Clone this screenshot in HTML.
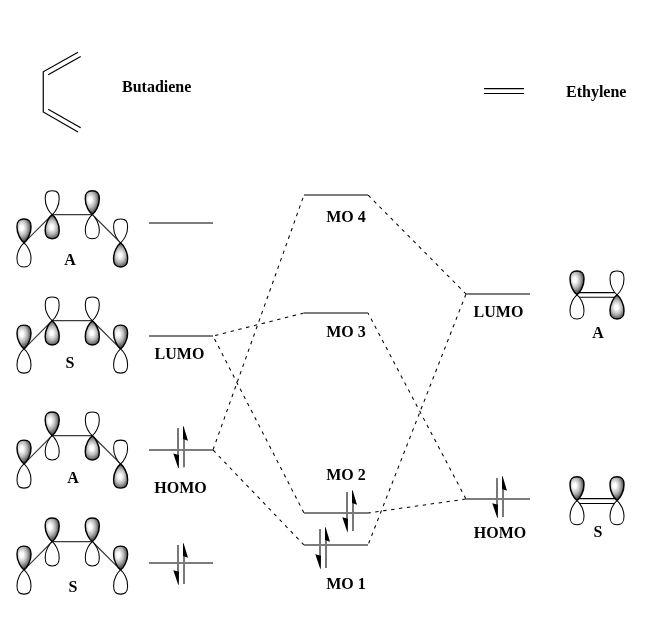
<!DOCTYPE html>
<html><head><meta charset="utf-8"><style>
html,body{margin:0;padding:0;background:#fff;}
svg{display:block;will-change:transform;}
text{font-family:"Liberation Serif",serif;font-weight:bold;font-size:16px;fill:#000;}
</style></head><body>
<svg width="658" height="640" viewBox="0 0 658 640">
<defs>
<radialGradient id="g0" gradientUnits="userSpaceOnUse" cx="21.80" cy="228.00" r="14" gradientTransform="translate(21.80,228.00) scale(0.75,1.1) translate(-21.80,-228.00)"><stop offset="0" stop-color="#fff"/><stop offset="0.15" stop-color="#fff"/><stop offset="0.5" stop-color="#b8b8b8"/><stop offset="0.78" stop-color="#666"/><stop offset="1" stop-color="#303030"/></radialGradient><radialGradient id="g1" gradientUnits="userSpaceOnUse" cx="51.70" cy="227.10" r="13.5" gradientTransform="translate(51.70,227.10) scale(0.8,1.05) translate(-51.70,-227.10)"><stop offset="0" stop-color="#fff"/><stop offset="0.15" stop-color="#fff"/><stop offset="0.5" stop-color="#b8b8b8"/><stop offset="0.78" stop-color="#666"/><stop offset="1" stop-color="#303030"/></radialGradient><radialGradient id="g2" gradientUnits="userSpaceOnUse" cx="90.10" cy="199.80" r="14" gradientTransform="translate(90.10,199.80) scale(0.75,1.1) translate(-90.10,-199.80)"><stop offset="0" stop-color="#fff"/><stop offset="0.15" stop-color="#fff"/><stop offset="0.5" stop-color="#b8b8b8"/><stop offset="0.78" stop-color="#666"/><stop offset="1" stop-color="#303030"/></radialGradient><radialGradient id="g3" gradientUnits="userSpaceOnUse" cx="120.10" cy="255.30" r="13.5" gradientTransform="translate(120.10,255.30) scale(0.8,1.05) translate(-120.10,-255.30)"><stop offset="0" stop-color="#fff"/><stop offset="0.15" stop-color="#fff"/><stop offset="0.5" stop-color="#b8b8b8"/><stop offset="0.78" stop-color="#666"/><stop offset="1" stop-color="#303030"/></radialGradient><radialGradient id="g4" gradientUnits="userSpaceOnUse" cx="21.80" cy="334.10" r="14" gradientTransform="translate(21.80,334.10) scale(0.75,1.1) translate(-21.80,-334.10)"><stop offset="0" stop-color="#fff"/><stop offset="0.15" stop-color="#fff"/><stop offset="0.5" stop-color="#b8b8b8"/><stop offset="0.78" stop-color="#666"/><stop offset="1" stop-color="#303030"/></radialGradient><radialGradient id="g5" gradientUnits="userSpaceOnUse" cx="51.70" cy="333.20" r="13.5" gradientTransform="translate(51.70,333.20) scale(0.8,1.05) translate(-51.70,-333.20)"><stop offset="0" stop-color="#fff"/><stop offset="0.15" stop-color="#fff"/><stop offset="0.5" stop-color="#b8b8b8"/><stop offset="0.78" stop-color="#666"/><stop offset="1" stop-color="#303030"/></radialGradient><radialGradient id="g6" gradientUnits="userSpaceOnUse" cx="91.80" cy="333.20" r="13.5" gradientTransform="translate(91.80,333.20) scale(0.8,1.05) translate(-91.80,-333.20)"><stop offset="0" stop-color="#fff"/><stop offset="0.15" stop-color="#fff"/><stop offset="0.5" stop-color="#b8b8b8"/><stop offset="0.78" stop-color="#666"/><stop offset="1" stop-color="#303030"/></radialGradient><radialGradient id="g7" gradientUnits="userSpaceOnUse" cx="118.40" cy="334.10" r="14" gradientTransform="translate(118.40,334.10) scale(0.75,1.1) translate(-118.40,-334.10)"><stop offset="0" stop-color="#fff"/><stop offset="0.15" stop-color="#fff"/><stop offset="0.5" stop-color="#b8b8b8"/><stop offset="0.78" stop-color="#666"/><stop offset="1" stop-color="#303030"/></radialGradient><radialGradient id="g8" gradientUnits="userSpaceOnUse" cx="21.80" cy="449.10" r="14" gradientTransform="translate(21.80,449.10) scale(0.75,1.1) translate(-21.80,-449.10)"><stop offset="0" stop-color="#fff"/><stop offset="0.15" stop-color="#fff"/><stop offset="0.5" stop-color="#b8b8b8"/><stop offset="0.78" stop-color="#666"/><stop offset="1" stop-color="#303030"/></radialGradient><radialGradient id="g9" gradientUnits="userSpaceOnUse" cx="50.00" cy="420.90" r="14" gradientTransform="translate(50.00,420.90) scale(0.75,1.1) translate(-50.00,-420.90)"><stop offset="0" stop-color="#fff"/><stop offset="0.15" stop-color="#fff"/><stop offset="0.5" stop-color="#b8b8b8"/><stop offset="0.78" stop-color="#666"/><stop offset="1" stop-color="#303030"/></radialGradient><radialGradient id="g10" gradientUnits="userSpaceOnUse" cx="91.80" cy="448.20" r="13.5" gradientTransform="translate(91.80,448.20) scale(0.8,1.05) translate(-91.80,-448.20)"><stop offset="0" stop-color="#fff"/><stop offset="0.15" stop-color="#fff"/><stop offset="0.5" stop-color="#b8b8b8"/><stop offset="0.78" stop-color="#666"/><stop offset="1" stop-color="#303030"/></radialGradient><radialGradient id="g11" gradientUnits="userSpaceOnUse" cx="120.10" cy="476.40" r="13.5" gradientTransform="translate(120.10,476.40) scale(0.8,1.05) translate(-120.10,-476.40)"><stop offset="0" stop-color="#fff"/><stop offset="0.15" stop-color="#fff"/><stop offset="0.5" stop-color="#b8b8b8"/><stop offset="0.78" stop-color="#666"/><stop offset="1" stop-color="#303030"/></radialGradient><radialGradient id="g12" gradientUnits="userSpaceOnUse" cx="21.80" cy="555.10" r="14" gradientTransform="translate(21.80,555.10) scale(0.75,1.1) translate(-21.80,-555.10)"><stop offset="0" stop-color="#fff"/><stop offset="0.15" stop-color="#fff"/><stop offset="0.5" stop-color="#b8b8b8"/><stop offset="0.78" stop-color="#666"/><stop offset="1" stop-color="#303030"/></radialGradient><radialGradient id="g13" gradientUnits="userSpaceOnUse" cx="50.00" cy="526.90" r="14" gradientTransform="translate(50.00,526.90) scale(0.75,1.1) translate(-50.00,-526.90)"><stop offset="0" stop-color="#fff"/><stop offset="0.15" stop-color="#fff"/><stop offset="0.5" stop-color="#b8b8b8"/><stop offset="0.78" stop-color="#666"/><stop offset="1" stop-color="#303030"/></radialGradient><radialGradient id="g14" gradientUnits="userSpaceOnUse" cx="90.10" cy="526.90" r="14" gradientTransform="translate(90.10,526.90) scale(0.75,1.1) translate(-90.10,-526.90)"><stop offset="0" stop-color="#fff"/><stop offset="0.15" stop-color="#fff"/><stop offset="0.5" stop-color="#b8b8b8"/><stop offset="0.78" stop-color="#666"/><stop offset="1" stop-color="#303030"/></radialGradient><radialGradient id="g15" gradientUnits="userSpaceOnUse" cx="118.40" cy="555.10" r="14" gradientTransform="translate(118.40,555.10) scale(0.75,1.1) translate(-118.40,-555.10)"><stop offset="0" stop-color="#fff"/><stop offset="0.15" stop-color="#fff"/><stop offset="0.5" stop-color="#b8b8b8"/><stop offset="0.78" stop-color="#666"/><stop offset="1" stop-color="#303030"/></radialGradient><radialGradient id="g16" gradientUnits="userSpaceOnUse" cx="574.80" cy="280.00" r="14" gradientTransform="translate(574.80,280.00) scale(0.75,1.1) translate(-574.80,-280.00)"><stop offset="0" stop-color="#fff"/><stop offset="0.15" stop-color="#fff"/><stop offset="0.5" stop-color="#b8b8b8"/><stop offset="0.78" stop-color="#666"/><stop offset="1" stop-color="#303030"/></radialGradient><radialGradient id="g17" gradientUnits="userSpaceOnUse" cx="616.50" cy="307.30" r="13.5" gradientTransform="translate(616.50,307.30) scale(0.8,1.05) translate(-616.50,-307.30)"><stop offset="0" stop-color="#fff"/><stop offset="0.15" stop-color="#fff"/><stop offset="0.5" stop-color="#b8b8b8"/><stop offset="0.78" stop-color="#666"/><stop offset="1" stop-color="#303030"/></radialGradient><radialGradient id="g18" gradientUnits="userSpaceOnUse" cx="574.80" cy="485.80" r="14" gradientTransform="translate(574.80,485.80) scale(0.75,1.1) translate(-574.80,-485.80)"><stop offset="0" stop-color="#fff"/><stop offset="0.15" stop-color="#fff"/><stop offset="0.5" stop-color="#b8b8b8"/><stop offset="0.78" stop-color="#666"/><stop offset="1" stop-color="#303030"/></radialGradient><radialGradient id="g19" gradientUnits="userSpaceOnUse" cx="614.80" cy="485.80" r="14" gradientTransform="translate(614.80,485.80) scale(0.75,1.1) translate(-614.80,-485.80)"><stop offset="0" stop-color="#fff"/><stop offset="0.15" stop-color="#fff"/><stop offset="0.5" stop-color="#b8b8b8"/><stop offset="0.78" stop-color="#666"/><stop offset="1" stop-color="#303030"/></radialGradient>
</defs>
<rect width="658" height="640" fill="#fff"/>
<polyline points="78,52.2 43.25,71.8 43.25,112 78,131.9" fill="none" stroke="#000" stroke-width="1.2"/>
<line x1="48.2" y1="74.7" x2="80.7" y2="56.4" stroke="#000" stroke-width="1.2"/>
<line x1="48.2" y1="109.25" x2="80.7" y2="127.7" stroke="#000" stroke-width="1.2"/>
<text x="122" y="92" text-anchor="start">Butadiene</text>
<line x1="484" y1="88.7" x2="524" y2="88.7" stroke="#000" stroke-width="1.2"/>
<line x1="484" y1="93.5" x2="524" y2="93.5" stroke="#000" stroke-width="1.2"/>
<text x="566" y="97" text-anchor="start">Ethylene</text>
<polyline points="24.0,242.8 52.2,214.6 92.3,214.6 120.6,242.8" fill="none" stroke="#3a3a3a" stroke-width="1.2"/>
<path d="M24.00,242.80 C26.90,240.50 31.20,234.00 31.00,226.80 C31.00,222.00 29.90,219.00 24.00,219.00 C18.10,219.00 17.00,222.00 17.00,226.80 C16.80,234.00 21.10,240.50 24.00,242.80 Z" fill="url(#g0)" stroke="#000" stroke-width="1.45" stroke-linejoin="round"/><path d="M24.00,242.80 C26.90,245.10 31.20,251.60 31.00,258.80 C31.00,263.60 29.90,267.00 24.00,267.00 C18.10,267.00 17.00,263.60 17.00,258.80 C16.80,251.60 21.10,245.10 24.00,242.80 Z" fill="#fff" stroke="#000" stroke-width="1.05" stroke-linejoin="round"/>
<path d="M52.20,214.60 C55.10,212.30 59.40,205.80 59.20,198.60 C59.20,193.80 58.10,190.80 52.20,190.80 C46.30,190.80 45.20,193.80 45.20,198.60 C45.00,205.80 49.30,212.30 52.20,214.60 Z" fill="#fff" stroke="#000" stroke-width="1.05" stroke-linejoin="round"/><path d="M52.20,214.60 C55.10,216.90 59.40,223.40 59.20,230.60 C59.20,235.40 58.10,238.80 52.20,238.80 C46.30,238.80 45.20,235.40 45.20,230.60 C45.00,223.40 49.30,216.90 52.20,214.60 Z" fill="url(#g1)" stroke="#000" stroke-width="1.45" stroke-linejoin="round"/>
<path d="M92.30,214.60 C95.20,212.30 99.50,205.80 99.30,198.60 C99.30,193.80 98.20,190.80 92.30,190.80 C86.40,190.80 85.30,193.80 85.30,198.60 C85.10,205.80 89.40,212.30 92.30,214.60 Z" fill="url(#g2)" stroke="#000" stroke-width="1.45" stroke-linejoin="round"/><path d="M92.30,214.60 C95.20,216.90 99.50,223.40 99.30,230.60 C99.30,235.40 98.20,238.80 92.30,238.80 C86.40,238.80 85.30,235.40 85.30,230.60 C85.10,223.40 89.40,216.90 92.30,214.60 Z" fill="#fff" stroke="#000" stroke-width="1.05" stroke-linejoin="round"/>
<path d="M120.60,242.80 C123.50,240.50 127.80,234.00 127.60,226.80 C127.60,222.00 126.50,219.00 120.60,219.00 C114.70,219.00 113.60,222.00 113.60,226.80 C113.40,234.00 117.70,240.50 120.60,242.80 Z" fill="#fff" stroke="#000" stroke-width="1.05" stroke-linejoin="round"/><path d="M120.60,242.80 C123.50,245.10 127.80,251.60 127.60,258.80 C127.60,263.60 126.50,267.00 120.60,267.00 C114.70,267.00 113.60,263.60 113.60,258.80 C113.40,251.60 117.70,245.10 120.60,242.80 Z" fill="url(#g3)" stroke="#000" stroke-width="1.45" stroke-linejoin="round"/>
<text x="70" y="265" text-anchor="middle">A</text>
<polyline points="24.0,348.9 52.2,320.7 92.3,320.7 120.6,348.9" fill="none" stroke="#3a3a3a" stroke-width="1.2"/>
<path d="M24.00,348.90 C26.90,346.60 31.20,340.10 31.00,332.90 C31.00,328.10 29.90,325.10 24.00,325.10 C18.10,325.10 17.00,328.10 17.00,332.90 C16.80,340.10 21.10,346.60 24.00,348.90 Z" fill="url(#g4)" stroke="#000" stroke-width="1.45" stroke-linejoin="round"/><path d="M24.00,348.90 C26.90,351.20 31.20,357.70 31.00,364.90 C31.00,369.70 29.90,373.10 24.00,373.10 C18.10,373.10 17.00,369.70 17.00,364.90 C16.80,357.70 21.10,351.20 24.00,348.90 Z" fill="#fff" stroke="#000" stroke-width="1.05" stroke-linejoin="round"/>
<path d="M52.20,320.70 C55.10,318.40 59.40,311.90 59.20,304.70 C59.20,299.90 58.10,296.90 52.20,296.90 C46.30,296.90 45.20,299.90 45.20,304.70 C45.00,311.90 49.30,318.40 52.20,320.70 Z" fill="#fff" stroke="#000" stroke-width="1.05" stroke-linejoin="round"/><path d="M52.20,320.70 C55.10,323.00 59.40,329.50 59.20,336.70 C59.20,341.50 58.10,344.90 52.20,344.90 C46.30,344.90 45.20,341.50 45.20,336.70 C45.00,329.50 49.30,323.00 52.20,320.70 Z" fill="url(#g5)" stroke="#000" stroke-width="1.45" stroke-linejoin="round"/>
<path d="M92.30,320.70 C95.20,318.40 99.50,311.90 99.30,304.70 C99.30,299.90 98.20,296.90 92.30,296.90 C86.40,296.90 85.30,299.90 85.30,304.70 C85.10,311.90 89.40,318.40 92.30,320.70 Z" fill="#fff" stroke="#000" stroke-width="1.05" stroke-linejoin="round"/><path d="M92.30,320.70 C95.20,323.00 99.50,329.50 99.30,336.70 C99.30,341.50 98.20,344.90 92.30,344.90 C86.40,344.90 85.30,341.50 85.30,336.70 C85.10,329.50 89.40,323.00 92.30,320.70 Z" fill="url(#g6)" stroke="#000" stroke-width="1.45" stroke-linejoin="round"/>
<path d="M120.60,348.90 C123.50,346.60 127.80,340.10 127.60,332.90 C127.60,328.10 126.50,325.10 120.60,325.10 C114.70,325.10 113.60,328.10 113.60,332.90 C113.40,340.10 117.70,346.60 120.60,348.90 Z" fill="url(#g7)" stroke="#000" stroke-width="1.45" stroke-linejoin="round"/><path d="M120.60,348.90 C123.50,351.20 127.80,357.70 127.60,364.90 C127.60,369.70 126.50,373.10 120.60,373.10 C114.70,373.10 113.60,369.70 113.60,364.90 C113.40,357.70 117.70,351.20 120.60,348.90 Z" fill="#fff" stroke="#000" stroke-width="1.05" stroke-linejoin="round"/>
<text x="70" y="368" text-anchor="middle">S</text>
<polyline points="24.0,463.9 52.2,435.7 92.3,435.7 120.6,463.9" fill="none" stroke="#3a3a3a" stroke-width="1.2"/>
<path d="M24.00,463.90 C26.90,461.60 31.20,455.10 31.00,447.90 C31.00,443.10 29.90,440.10 24.00,440.10 C18.10,440.10 17.00,443.10 17.00,447.90 C16.80,455.10 21.10,461.60 24.00,463.90 Z" fill="url(#g8)" stroke="#000" stroke-width="1.45" stroke-linejoin="round"/><path d="M24.00,463.90 C26.90,466.20 31.20,472.70 31.00,479.90 C31.00,484.70 29.90,488.10 24.00,488.10 C18.10,488.10 17.00,484.70 17.00,479.90 C16.80,472.70 21.10,466.20 24.00,463.90 Z" fill="#fff" stroke="#000" stroke-width="1.05" stroke-linejoin="round"/>
<path d="M52.20,435.70 C55.10,433.40 59.40,426.90 59.20,419.70 C59.20,414.90 58.10,411.90 52.20,411.90 C46.30,411.90 45.20,414.90 45.20,419.70 C45.00,426.90 49.30,433.40 52.20,435.70 Z" fill="url(#g9)" stroke="#000" stroke-width="1.45" stroke-linejoin="round"/><path d="M52.20,435.70 C55.10,438.00 59.40,444.50 59.20,451.70 C59.20,456.50 58.10,459.90 52.20,459.90 C46.30,459.90 45.20,456.50 45.20,451.70 C45.00,444.50 49.30,438.00 52.20,435.70 Z" fill="#fff" stroke="#000" stroke-width="1.05" stroke-linejoin="round"/>
<path d="M92.30,435.70 C95.20,433.40 99.50,426.90 99.30,419.70 C99.30,414.90 98.20,411.90 92.30,411.90 C86.40,411.90 85.30,414.90 85.30,419.70 C85.10,426.90 89.40,433.40 92.30,435.70 Z" fill="#fff" stroke="#000" stroke-width="1.05" stroke-linejoin="round"/><path d="M92.30,435.70 C95.20,438.00 99.50,444.50 99.30,451.70 C99.30,456.50 98.20,459.90 92.30,459.90 C86.40,459.90 85.30,456.50 85.30,451.70 C85.10,444.50 89.40,438.00 92.30,435.70 Z" fill="url(#g10)" stroke="#000" stroke-width="1.45" stroke-linejoin="round"/>
<path d="M120.60,463.90 C123.50,461.60 127.80,455.10 127.60,447.90 C127.60,443.10 126.50,440.10 120.60,440.10 C114.70,440.10 113.60,443.10 113.60,447.90 C113.40,455.10 117.70,461.60 120.60,463.90 Z" fill="#fff" stroke="#000" stroke-width="1.05" stroke-linejoin="round"/><path d="M120.60,463.90 C123.50,466.20 127.80,472.70 127.60,479.90 C127.60,484.70 126.50,488.10 120.60,488.10 C114.70,488.10 113.60,484.70 113.60,479.90 C113.40,472.70 117.70,466.20 120.60,463.90 Z" fill="url(#g11)" stroke="#000" stroke-width="1.45" stroke-linejoin="round"/>
<text x="73" y="483" text-anchor="middle">A</text>
<polyline points="24.0,569.9 52.2,541.7 92.3,541.7 120.6,569.9" fill="none" stroke="#3a3a3a" stroke-width="1.2"/>
<path d="M24.00,569.90 C26.90,567.60 31.20,561.10 31.00,553.90 C31.00,549.10 29.90,546.10 24.00,546.10 C18.10,546.10 17.00,549.10 17.00,553.90 C16.80,561.10 21.10,567.60 24.00,569.90 Z" fill="url(#g12)" stroke="#000" stroke-width="1.45" stroke-linejoin="round"/><path d="M24.00,569.90 C26.90,572.20 31.20,578.70 31.00,585.90 C31.00,590.70 29.90,594.10 24.00,594.10 C18.10,594.10 17.00,590.70 17.00,585.90 C16.80,578.70 21.10,572.20 24.00,569.90 Z" fill="#fff" stroke="#000" stroke-width="1.05" stroke-linejoin="round"/>
<path d="M52.20,541.70 C55.10,539.40 59.40,532.90 59.20,525.70 C59.20,520.90 58.10,517.90 52.20,517.90 C46.30,517.90 45.20,520.90 45.20,525.70 C45.00,532.90 49.30,539.40 52.20,541.70 Z" fill="url(#g13)" stroke="#000" stroke-width="1.45" stroke-linejoin="round"/><path d="M52.20,541.70 C55.10,544.00 59.40,550.50 59.20,557.70 C59.20,562.50 58.10,565.90 52.20,565.90 C46.30,565.90 45.20,562.50 45.20,557.70 C45.00,550.50 49.30,544.00 52.20,541.70 Z" fill="#fff" stroke="#000" stroke-width="1.05" stroke-linejoin="round"/>
<path d="M92.30,541.70 C95.20,539.40 99.50,532.90 99.30,525.70 C99.30,520.90 98.20,517.90 92.30,517.90 C86.40,517.90 85.30,520.90 85.30,525.70 C85.10,532.90 89.40,539.40 92.30,541.70 Z" fill="url(#g14)" stroke="#000" stroke-width="1.45" stroke-linejoin="round"/><path d="M92.30,541.70 C95.20,544.00 99.50,550.50 99.30,557.70 C99.30,562.50 98.20,565.90 92.30,565.90 C86.40,565.90 85.30,562.50 85.30,557.70 C85.10,550.50 89.40,544.00 92.30,541.70 Z" fill="#fff" stroke="#000" stroke-width="1.05" stroke-linejoin="round"/>
<path d="M120.60,569.90 C123.50,567.60 127.80,561.10 127.60,553.90 C127.60,549.10 126.50,546.10 120.60,546.10 C114.70,546.10 113.60,549.10 113.60,553.90 C113.40,561.10 117.70,567.60 120.60,569.90 Z" fill="url(#g15)" stroke="#000" stroke-width="1.45" stroke-linejoin="round"/><path d="M120.60,569.90 C123.50,572.20 127.80,578.70 127.60,585.90 C127.60,590.70 126.50,594.10 120.60,594.10 C114.70,594.10 113.60,590.70 113.60,585.90 C113.40,578.70 117.70,572.20 120.60,569.90 Z" fill="#fff" stroke="#000" stroke-width="1.05" stroke-linejoin="round"/>
<text x="73" y="591.5" text-anchor="middle">S</text>
<line x1="304" y1="313" x2="213" y2="336" stroke="#000" stroke-width="1.05" stroke-dasharray="3.4 4.6" stroke-dashoffset="-0.3"/>
<line x1="304" y1="513" x2="213" y2="336" stroke="#000" stroke-width="1.05" stroke-dasharray="3.4 4.6" stroke-dashoffset="-0.3"/>
<line x1="213" y1="450" x2="304" y2="195" stroke="#000" stroke-width="1.05" stroke-dasharray="3.4 4.6" stroke-dashoffset="-0.3"/>
<line x1="213" y1="450" x2="304" y2="545" stroke="#000" stroke-width="1.05" stroke-dasharray="3.4 4.6" stroke-dashoffset="-0.3"/>
<line x1="368" y1="195" x2="466" y2="294" stroke="#000" stroke-width="1.05" stroke-dasharray="3.4 4.6" stroke-dashoffset="-0.3"/>
<line x1="466" y1="499" x2="368" y2="313" stroke="#000" stroke-width="1.05" stroke-dasharray="3.4 4.6" stroke-dashoffset="-0.3"/>
<line x1="466" y1="499" x2="368" y2="513" stroke="#000" stroke-width="1.05" stroke-dasharray="3.4 4.6" stroke-dashoffset="-0.3"/>
<line x1="466" y1="294" x2="368" y2="545" stroke="#000" stroke-width="1.05" stroke-dasharray="3.4 4.6" stroke-dashoffset="-0.3"/>
<rect x="149" y="222" width="64" height="2" fill="#7c7c7c"/>
<rect x="149" y="335" width="64" height="2" fill="#7c7c7c"/>
<rect x="149" y="449" width="64" height="2" fill="#7c7c7c"/>
<rect x="149" y="562" width="64" height="2" fill="#7c7c7c"/>
<rect x="304" y="194" width="64" height="2" fill="#7c7c7c"/>
<rect x="304" y="312" width="64" height="2" fill="#7c7c7c"/>
<rect x="304" y="512" width="64" height="2" fill="#7c7c7c"/>
<rect x="304" y="544" width="64" height="2" fill="#7c7c7c"/>
<rect x="466" y="293" width="64" height="2" fill="#7c7c7c"/>
<rect x="466" y="498" width="64" height="2" fill="#7c7c7c"/>
<text x="179.5" y="359" text-anchor="middle">LUMO</text>
<text x="180.5" y="492.5" text-anchor="middle">HOMO</text>
<text x="346" y="222" text-anchor="middle">MO 4</text>
<text x="346" y="336.5" text-anchor="middle">MO 3</text>
<text x="346" y="480" text-anchor="middle">MO 2</text>
<text x="346" y="589" text-anchor="middle">MO 1</text>
<text x="498.5" y="317" text-anchor="middle">LUMO</text>
<text x="500" y="537.5" text-anchor="middle">HOMO</text>
<rect x="177" y="428" width="2" height="27.30000000000001" fill="#787878"/>
<polygon points="173.3,453.6 179,455.0 178.8,468.0 178.2,468.0" fill="#000"/>
<rect x="183" y="439" width="2" height="28.30000000000001" fill="#787878"/>
<polygon points="183,426.3 183.6,426.3 188,440.8 183,439" fill="#000"/>
<rect x="177" y="545" width="2" height="27" fill="#787878"/>
<polygon points="173.3,570.3 179,571.7 178.8,584.7 178.2,584.7" fill="#000"/>
<rect x="183" y="556" width="2" height="28" fill="#787878"/>
<polygon points="183,543.3 183.6,543.3 188,557.8 183,556" fill="#000"/>
<rect x="346" y="492" width="2" height="27" fill="#787878"/>
<polygon points="342.3,517.3 348,518.7 347.8,531.7 347.2,531.7" fill="#000"/>
<rect x="352" y="503" width="2" height="28" fill="#787878"/>
<polygon points="352,490.3 352.6,490.3 357,504.8 352,503" fill="#000"/>
<rect x="319" y="529" width="2" height="27" fill="#787878"/>
<polygon points="315.3,554.3 321,555.7 320.8,568.7 320.2,568.7" fill="#000"/>
<rect x="325" y="540" width="2" height="28" fill="#787878"/>
<polygon points="325,527.3 325.6,527.3 330,541.8 325,540" fill="#000"/>
<rect x="496" y="478" width="2" height="27" fill="#787878"/>
<polygon points="492.3,503.3 498,504.7 497.8,517.7 497.2,517.7" fill="#000"/>
<rect x="502" y="489" width="2" height="28" fill="#787878"/>
<polygon points="502,476.3 502.6,476.3 507,490.8 502,489" fill="#000"/>
<line x1="577" y1="292.6" x2="617" y2="292.6" stroke="#000" stroke-width="1.05"/>
<line x1="577" y1="297.2" x2="617" y2="297.2" stroke="#000" stroke-width="1.05"/>
<path d="M577.00,294.80 C579.90,292.50 584.20,286.00 584.00,278.80 C584.00,274.00 582.90,271.00 577.00,271.00 C571.10,271.00 570.00,274.00 570.00,278.80 C569.80,286.00 574.10,292.50 577.00,294.80 Z" fill="url(#g16)" stroke="#000" stroke-width="1.45" stroke-linejoin="round"/><path d="M577.00,294.80 C579.90,297.10 584.20,303.60 584.00,310.80 C584.00,315.60 582.90,319.00 577.00,319.00 C571.10,319.00 570.00,315.60 570.00,310.80 C569.80,303.60 574.10,297.10 577.00,294.80 Z" fill="#fff" stroke="#000" stroke-width="1.05" stroke-linejoin="round"/>
<path d="M617.00,294.80 C619.90,292.50 624.20,286.00 624.00,278.80 C624.00,274.00 622.90,271.00 617.00,271.00 C611.10,271.00 610.00,274.00 610.00,278.80 C609.80,286.00 614.10,292.50 617.00,294.80 Z" fill="#fff" stroke="#000" stroke-width="1.05" stroke-linejoin="round"/><path d="M617.00,294.80 C619.90,297.10 624.20,303.60 624.00,310.80 C624.00,315.60 622.90,319.00 617.00,319.00 C611.10,319.00 610.00,315.60 610.00,310.80 C609.80,303.60 614.10,297.10 617.00,294.80 Z" fill="url(#g17)" stroke="#000" stroke-width="1.45" stroke-linejoin="round"/>
<text x="598" y="338" text-anchor="middle">A</text>
<line x1="577" y1="498.6" x2="617" y2="498.6" stroke="#000" stroke-width="1.05"/>
<line x1="577" y1="503.5" x2="617" y2="503.5" stroke="#000" stroke-width="1.05"/>
<path d="M577.00,500.60 C579.90,498.30 584.20,491.80 584.00,484.60 C584.00,479.80 582.90,476.80 577.00,476.80 C571.10,476.80 570.00,479.80 570.00,484.60 C569.80,491.80 574.10,498.30 577.00,500.60 Z" fill="url(#g18)" stroke="#000" stroke-width="1.45" stroke-linejoin="round"/><path d="M577.00,500.60 C579.90,502.90 584.20,509.40 584.00,516.60 C584.00,521.40 582.90,524.80 577.00,524.80 C571.10,524.80 570.00,521.40 570.00,516.60 C569.80,509.40 574.10,502.90 577.00,500.60 Z" fill="#fff" stroke="#000" stroke-width="1.05" stroke-linejoin="round"/>
<path d="M617.00,500.60 C619.90,498.30 624.20,491.80 624.00,484.60 C624.00,479.80 622.90,476.80 617.00,476.80 C611.10,476.80 610.00,479.80 610.00,484.60 C609.80,491.80 614.10,498.30 617.00,500.60 Z" fill="url(#g19)" stroke="#000" stroke-width="1.45" stroke-linejoin="round"/><path d="M617.00,500.60 C619.90,502.90 624.20,509.40 624.00,516.60 C624.00,521.40 622.90,524.80 617.00,524.80 C611.10,524.80 610.00,521.40 610.00,516.60 C609.80,509.40 614.10,502.90 617.00,500.60 Z" fill="#fff" stroke="#000" stroke-width="1.05" stroke-linejoin="round"/>
<text x="598" y="537" text-anchor="middle">S</text>
</svg>
</body></html>
